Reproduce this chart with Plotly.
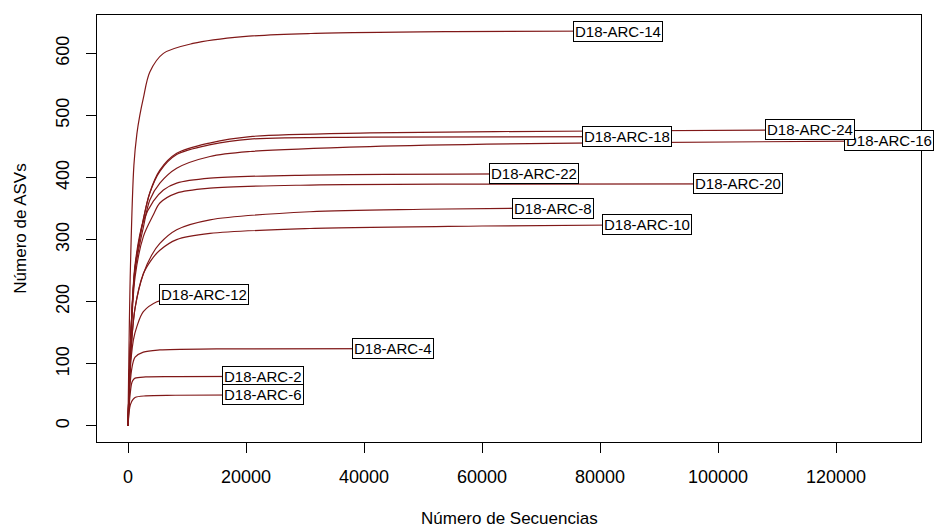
import plotly.graph_objects as go

# Rarefaction curves: sequencing depth (x) vs observed ASVs (y), one per sample
arc2_n = [0, 300, 600, 800, 1200, 3000, 8000, 22900]
arc2_s = [0, 45, 68, 73, 77, 79, 79.5, 80]

arc4_n = [0, 300, 600, 900, 1200, 2600, 5400, 15000, 44900]
arc4_s = [0, 60, 90, 104, 111, 119, 122.5, 124, 124.5]

arc6_n = [0, 300, 600, 800, 1200, 3000, 8000, 22900]
arc6_s = [0, 30, 39, 42, 46, 48.5, 49.5, 50]

arc8_n = [0, 500, 1200, 2600, 4000, 5400, 8250, 13900, 30850, 50000, 71950]
arc8_s = [0, 120, 190, 245, 275, 294, 316, 332, 345, 349, 351]

arc10_n = [0, 500, 1200, 2600, 4000, 5400, 8250, 13900, 30850, 60000, 87950]
arc10_s = [0, 120, 190, 245, 268, 283, 300, 310, 318, 322, 324]

arc12_n = [0, 300, 900, 1500, 2600, 4900, 8000, 12900]
arc12_s = [0, 80, 138, 160, 184, 200, 207, 211]

arc14_n = [0, 400, 1000, 1500, 2000, 2600, 3700, 6000, 11000, 19500, 31000, 55000, 83050]
arc14_s = [0, 250, 420, 470, 500, 528, 570, 600, 616, 627, 632, 635, 636]

arc16_n = [0, 500, 1200, 2600, 3700, 5400, 8250, 13900, 20700, 41000, 80000, 129000]
arc16_s = [0, 150, 250, 320, 364, 391, 415, 434, 442, 450, 456, 459]

arc18_n = [0, 500, 1200, 2600, 3700, 5400, 8250, 14000, 20700, 41000, 84600]
arc18_s = [0, 150, 255, 332, 375, 410, 437, 453, 462, 465, 466]

arc20_n = [0, 500, 1200, 2600, 4300, 5400, 8250, 13900, 30850, 60000, 103400]
arc20_s = [0, 140, 240, 305, 340, 359, 375, 383, 388, 389.5, 390]

arc22_n = [0, 500, 1200, 2600, 4300, 6000, 8250, 13900, 30850, 68800]
arc22_s = [0, 150, 260, 330, 362, 380, 391, 399, 404, 406]

arc24_n = [0, 500, 1200, 2600, 3700, 5400, 8250, 14000, 20700, 41000, 80000, 115600]
arc24_s = [0, 150, 255, 333, 376, 412, 439, 456, 466, 472, 475, 477]

samples = ["D18-ARC-2", "D18-ARC-4", "D18-ARC-6", "D18-ARC-8", "D18-ARC-10",
           "D18-ARC-12", "D18-ARC-14", "D18-ARC-16", "D18-ARC-18",
           "D18-ARC-20", "D18-ARC-22", "D18-ARC-24"]
depths = [arc2_n, arc4_n, arc6_n, arc8_n, arc10_n, arc12_n, arc14_n,
          arc16_n, arc18_n, arc20_n, arc22_n, arc24_n]
richness = [arc2_s, arc4_s, arc6_s, arc8_s, arc10_s, arc12_s, arc14_s,
            arc16_s, arc18_s, arc20_s, arc22_s, arc24_s]

x_ticks = [0, 20000, 40000, 60000, 80000, 100000, 120000]
y_ticks = [0, 100, 200, 300, 400, 500, 600]

LINE_COLOR = "#801818"
FONT = "Liberation Sans, Arial, sans-serif"

fig = go.Figure()
for name, n, s in zip(samples, depths, richness):
    fig.add_trace(go.Scatter(
        x=n, y=s, mode="lines", name=name,
        line=dict(color=LINE_COLOR, width=1.2, shape="spline", smoothing=0.9),
        hoverinfo="name+x+y", showlegend=False,
    ))

# boxed sample labels centred on each curve's end point
for name, n, s in zip(samples, depths, richness):
    fig.add_annotation(
        x=n[-1], y=s[-1], text=name, showarrow=False,
        xanchor="center", yanchor="middle",
        font=dict(family=FONT, size=15, color="black"),
        bgcolor="white", bordercolor="black", borderwidth=1, borderpad=1,
    )

# x-axis title placed below the tick labels
fig.add_annotation(
    xref="paper", yref="paper", x=0.5, y=-0.178,
    text="Número de Secuencias", showarrow=False,
    xanchor="center", yanchor="middle",
    font=dict(family=FONT, size=17, color="black"),
)

fig.update_layout(
    width=935, height=527,
    margin=dict(l=97, r=14, t=15, b=85),
    paper_bgcolor="white", plot_bgcolor="white",
    font=dict(family=FONT, size=18, color="black"),
)
fig.update_xaxes(
    range=[-5254, 134407], tickvals=x_ticks, tickformat="d",
    showgrid=False, zeroline=False, automargin=False,
    showline=True, mirror=True, linecolor="black", linewidth=1,
    ticks="outside", ticklen=10, tickcolor="black", tickwidth=1,
    ticklabelstandoff=8,
)
fig.update_yaxes(
    range=[-25.8, 661.8], tickvals=y_ticks, tickangle=-90,
    showgrid=False, zeroline=False, automargin=False,
    showline=True, mirror=True, linecolor="black", linewidth=1,
    ticks="outside", ticklen=10, tickcolor="black", tickwidth=1,
    ticklabelstandoff=10,
    title=dict(text="Número de ASVs", standoff=21,
               font=dict(family=FONT, size=17)),
)

fig.write_html("out.html")
